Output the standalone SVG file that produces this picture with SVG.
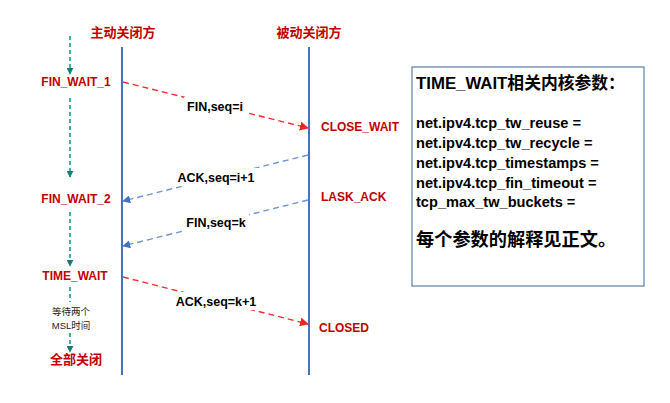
<svg xmlns="http://www.w3.org/2000/svg" width="670" height="403" viewBox="0 0 670 403">
<style>
.hdr{font-family:"Liberation Sans","Noto Sans CJK SC",sans-serif;font-weight:bold;font-size:13px;fill:#c00000;text-anchor:middle}
.st{font-family:"Liberation Sans","Noto Sans CJK SC",sans-serif;font-weight:bold;font-size:12px;fill:#c00000}
.msg{font-family:"Liberation Sans","Noto Sans CJK SC",sans-serif;font-weight:bold;font-size:12.5px;fill:#000;text-anchor:middle}
.note{font-family:"Liberation Sans","Noto Sans CJK SC",sans-serif;font-size:9.5px;fill:#222;text-anchor:middle}
.box{font-family:"Liberation Sans","Noto Sans CJK SC",sans-serif;font-weight:bold;fill:#000}
.life{stroke:#4472c4;stroke-width:2;fill:none}
.teal{stroke:#1f9a8e;stroke-width:1.6;stroke-dasharray:4,3;fill:none}
.red{stroke:#ff2b2b;stroke-width:1.4;stroke-dasharray:6,4;fill:none}
.blue{stroke:#6f93d6;stroke-width:1.4;stroke-dasharray:6,4;fill:none}
</style>
<defs>
<marker id="ah-teal" viewBox="0 0 10 10" refX="9" refY="5" markerWidth="7" markerHeight="7" orient="auto" markerUnits="userSpaceOnUse"><path d="M0,0 L10,5 L0,10 z" fill="#137f75"/></marker>
<marker id="ah-red" viewBox="0 0 10 10" refX="9" refY="5" markerWidth="9" markerHeight="9" orient="auto" markerUnits="userSpaceOnUse"><path d="M0,0 L10,5 L0,10 z" fill="#ff2020"/></marker>
<marker id="ah-blue" viewBox="0 0 10 10" refX="9" refY="5" markerWidth="8" markerHeight="8" orient="auto" markerUnits="userSpaceOnUse"><path d="M0,0 L10,5 L0,10 z" fill="#4472c4"/></marker>
</defs>
<rect width="670" height="403" fill="#fff"/>

<g id="lifelines">
<line class="life" x1="122" y1="47" x2="122" y2="375"/>
<line class="life" x1="309" y1="47" x2="309" y2="375"/>
</g>

<g id="headers">
<text class="hdr" x="123" y="37">主动关闭方</text>
<text class="hdr" x="309" y="37">被动关闭方</text>
</g>

<g id="connectors">
<line class="teal" x1="70" y1="36" x2="70" y2="74" marker-end="url(#ah-teal)"/>
<line class="teal" x1="70" y1="98" x2="70" y2="177" marker-end="url(#ah-teal)"/>
<line class="teal" x1="70" y1="212" x2="70" y2="266" marker-end="url(#ah-teal)"/>
<line class="teal" x1="70" y1="287" x2="70" y2="302"/>
<line class="teal" x1="70" y1="333" x2="70" y2="352" marker-end="url(#ah-teal)"/>
<line class="red" x1="123" y1="82" x2="308" y2="128" marker-end="url(#ah-red)"/>
<line class="blue" x1="308" y1="155" x2="123" y2="201" marker-end="url(#ah-blue)"/>
<line class="blue" x1="308" y1="200" x2="123" y2="246" marker-end="url(#ah-blue)"/>
<line class="red" x1="123" y1="277" x2="308" y2="324" marker-end="url(#ah-red)"/>
</g>

<g id="msg-fin1">
<rect x="184" y="97" width="64" height="18" fill="#fff"/>
<text class="msg" x="215" y="111">FIN,seq=i</text>
</g>
<g id="msg-ack1">
<rect x="176" y="168" width="82" height="18" fill="#fff"/>
<text class="msg" x="216" y="182">ACK,seq=i+1</text>
</g>
<g id="msg-fin2">
<rect x="183" y="213" width="66" height="18" fill="#fff"/>
<text class="msg" x="216" y="227">FIN,seq=k</text>
</g>
<g id="msg-ack2">
<rect x="173" y="292" width="86" height="18" fill="#fff"/>
<text class="msg" x="216" y="306">ACK,seq=k+1</text>
</g>

<g id="state-fin-wait-1"><text class="st" x="76" y="86" text-anchor="middle">FIN_WAIT_1</text></g>
<g id="state-fin-wait-2"><text class="st" x="76" y="203" text-anchor="middle">FIN_WAIT_2</text></g>
<g id="state-time-wait"><text class="st" x="75" y="280" text-anchor="middle">TIME_WAIT</text></g>
<g id="note-msl">
<text class="note" x="71" y="315">等待两个</text>
<text class="note" x="71" y="329">MSL时间</text>
</g>
<g id="state-all-closed"><text class="st" x="76" y="364" text-anchor="middle" style="font-size:13px">全部关闭</text></g>
<g id="state-close-wait"><text class="st" x="321" y="131">CLOSE_WAIT</text></g>
<g id="state-lask-ack"><text class="st" x="321" y="201">LASK_ACK</text></g>
<g id="state-closed"><text class="st" x="319" y="332">CLOSED</text></g>

<g id="param-box">
<rect x="412" y="67" width="232" height="219" fill="#fff" stroke="#5b7fa6" stroke-width="1.2"/>
<text class="box" x="416" y="89" font-size="16.8">TIME_WAIT相关内核参数：</text>
<text class="box" x="416" y="128" font-size="14.6">net.ipv4.tcp_tw_reuse =</text>
<text class="box" x="416" y="148" font-size="14.6">net.ipv4.tcp_tw_recycle =</text>
<text class="box" x="416" y="168" font-size="14.6">net.ipv4.tcp_timestamps =</text>
<text class="box" x="416" y="188" font-size="14.6">net.ipv4.tcp_fin_timeout =</text>
<text class="box" x="416" y="207" font-size="14.6">tcp_max_tw_buckets =</text>
<text class="box" x="416" y="246" font-size="18.2">每个参数的解释见正文。</text>
</g>
</svg>
